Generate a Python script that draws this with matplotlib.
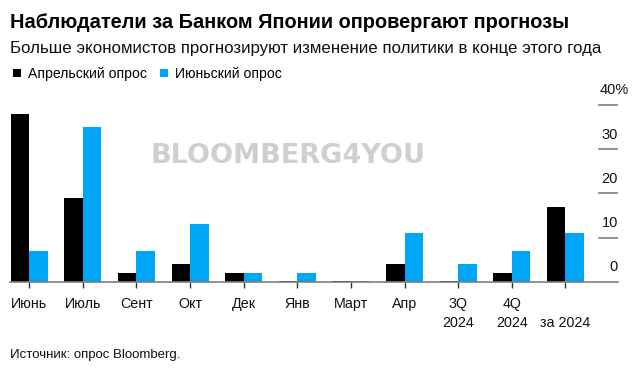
import matplotlib
matplotlib.use("Agg")
import matplotlib.pyplot as plt
import numpy as np

plt.rcParams['font.family'] = ['Liberation Sans', 'DejaVu Sans']

# Данные (оценка по картинке, %)
periods = ["Июнь", "Июль", "Сент", "Окт", "Дек", "Янв", "Март", "Апр",
           "3Q\n2024", "4Q\n2024", "\nза 2024"]
april_survey = [38, 19, 2, 4, 2, 0.3, 0.3, 4, 0.3, 2, 17]
june_survey = [7, 35, 7, 13, 2, 2, 0.3, 11, 4, 7, 11]
y_ticks = [0, 10, 20, 30, 40]

black = "#000000"
blue = "#00A6F6"
grid_col = "#7f7f7f"

W, H = 643, 380
fig = plt.figure(figsize=(W / 100, H / 100), dpi=100)
ax = fig.add_axes([10 / W, 1 - 282 / H, 608 / W, (282 - 96) / H])

x = np.arange(len(periods))
bw = 0.347
b1 = ax.bar(x - bw / 2, april_survey, bw, color=black, label="Апрельский опрос")
b2 = ax.bar(x + bw / 2, june_survey, bw, color=blue, label="Июньский опрос")

ax.set_xlim(-0.36, 10.983)
ax.set_ylim(0, 42)

for s in ["top", "right", "left"]:
    ax.spines[s].set_visible(False)
ax.spines["bottom"].set_color(grid_col)
ax.spines["bottom"].set_linewidth(1.2)
ax.set_yticks([])
ax.set_xticks(x)
ax.set_xticklabels(periods, fontsize=10.3, color="#111111")
ax.tick_params(axis="x", length=4, width=1, color="#333333", pad=7)
plt.setp(ax.get_xticklabels(), linespacing=1.45)

# шкала справа: короткие линии и подписи
for v in y_ticks:
    if v > 0:
        ax.axhline(v, xmin=(599 - 10) / 608, xmax=1.0, color=grid_col, lw=1.2)
    lab = f"{v}%" if v == 40 else f"{v}"
    if v == 40:
        ax.text((600 - 10) / 608, v + 1.7, lab, transform=ax.get_yaxis_transform(),
                ha="left", va="bottom", fontsize=10.5, color="#111111")
    else:
        ax.text(1.0, v + 1.7, lab, transform=ax.get_yaxis_transform(),
                ha="right", va="bottom", fontsize=10.5, color="#111111")

# водяной знак
fig.text(288 / W, 1 - 156 / H, "BLOOMBERG4YOU", ha="center", va="center",
         fontsize=19.5, fontweight="bold", color="#cfcfcf",
         family=["Liberation Sans Narrow", "DejaVu Sans"])

fig.text(10 / W, 1 - 23 / H, "Наблюдатели за Банком Японии опровергают прогнозы",
         fontsize=14.4, fontweight="bold", va="center", ha="left")
fig.text(10 / W, 1 - 49 / H,
         "Больше экономистов прогнозируют изменение политики в конце этого года",
         fontsize=12.2, va="center", ha="left", color="#111111")

fig.legend(handles=[b1, b2], loc="center left", bbox_to_anchor=(13 / W, 1 - 74 / H),
           ncol=2, frameon=False, fontsize=10.1, handlelength=0.57, handleheight=0.57,
           handletextpad=0.5, columnspacing=0.95, borderaxespad=0, borderpad=0)

fig.text(10 / W, 1 - 355 / H, "Источник: опрос Bloomberg.", fontsize=9.5,
         va="center", ha="left", color="#111111")

fig.savefig("out.png", dpi=100)
